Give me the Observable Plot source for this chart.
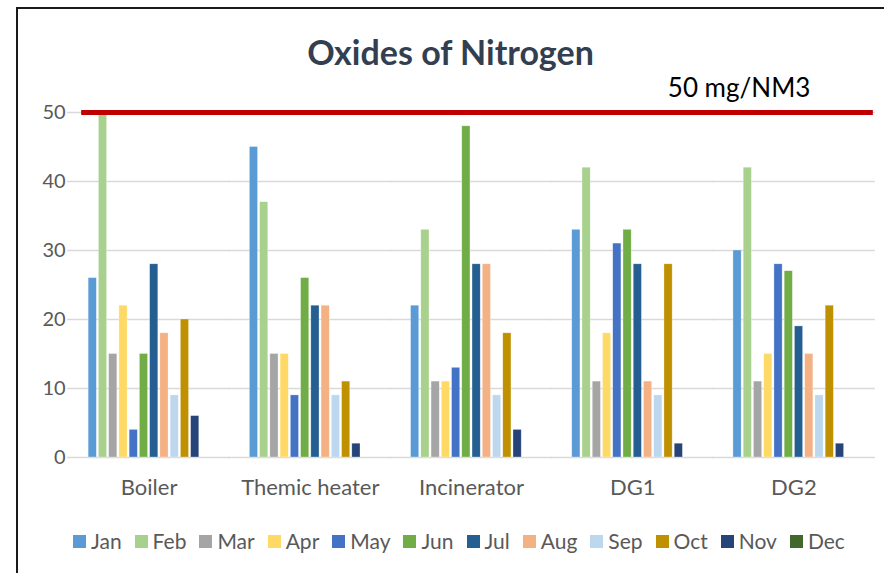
<!DOCTYPE html>
<html><head><meta charset="utf-8">
<script src="https://cdn.jsdelivr.net/npm/d3@7"></script>
<script src="https://cdn.jsdelivr.net/npm/@observablehq/plot@0.6"></script>
<style>
body{margin:0;background:#fff;font-family:Lato,"Open Sans",sans-serif;}
#wrap{position:relative;width:884px;height:573px;overflow:hidden;background:#fff;}
#frame{position:absolute;left:16px;top:7px;width:900px;height:600px;border-left:2px solid #1a1a1a;border-top:2px solid #1a1a1a;}
#title{position:absolute;left:17px;width:867px;top:30px;text-align:center;font-weight:bold;font-size:34px;line-height:44px;color:#333F50;}
#chart{position:absolute;left:0;top:60px;}
#legend{position:absolute;left:73px;top:527px;display:flex;align-items:center;font-size:21px;color:#595959;line-height:28px;white-space:nowrap;}
#legend .item{display:flex;align-items:center;margin-right:13px;}
#legend .sw{width:13px;height:13px;margin-right:5px;}
</style></head>
<body><div id="wrap"><div id="frame"></div><div id="title"></div><div id="chart"></div><div id="legend"></div></div>
<script>
const titleText = "Oxides of Nitrogen";
const sites = ["Boiler", "Themic heater", "Incinerator", "DG1", "DG2"];
const months = ["Jan","Feb","Mar","Apr","May","Jun","Jul","Aug","Sep","Oct","Nov","Dec"];
const monthColors = ["#5B9BD5","#A9D18E","#A5A5A5","#FFD966","#4472C4","#70AD47","#255E91","#F4B183","#BDD7EE","#BF9000","#264478","#43682B"];
// values per month, in the order of sites
const jan = [26, 45, 22, 33, 30];
const feb = [50, 37, 33, 42, 42];
const mar = [15, 15, 11, 11, 11];
const apr = [22, 15, 11, 18, 15];
const may = [4, 9, 13, 31, 28];
const jun = [15, 26, 48, 33, 27];
const jul = [28, 22, 28, 28, 19];
const aug = [18, 22, 28, 11, 15];
const sep = [9, 9, 9, 9, 9];
const oct = [20, 11, 18, 28, 22];
const nov = [6, 2, 4, 2, 2];
const dec = [null, null, null, null, null];
const yTicks = [0, 10, 20, 30, 40, 50];
const limitValue = 50;
const limitLabel = "50 mg/NM3";

const series = [jan, feb, mar, apr, may, jun, jul, aug, sep, oct, nov, dec];
const data = [];
series.forEach((vals, i) => vals.forEach((v, j) => {
  if (v != null) data.push({site: sites[j], month: months[i], value: v});
}));
const grid = [];
sites.forEach(s => yTicks.forEach(t => grid.push({site: s, value: t})));
const limitFirst = [{site: sites[0], value: limitValue}];
const limitRest = sites.slice(1).map(s => ({site: s, value: limitValue}));
const limitText = [{site: sites[sites.length - 1], value: limitValue, label: limitLabel}];

document.getElementById("title").textContent = titleText;

const chart = Plot.plot({
  width: 884,
  height: 460,
  marginTop: 52,
  marginBottom: 63,
  marginLeft: 68,
  marginRight: 10,
  style: {fontFamily: "Lato, 'Open Sans', sans-serif", background: "transparent", overflow: "visible"},
  fx: {domain: sites, paddingInner: 0.25, paddingOuter: 0.125, label: null, round: false},
  x: {domain: months, paddingInner: 0.2, paddingOuter: 0, axis: null, round: false},
  y: {domain: [0, 50], label: null},
  color: {domain: months, range: monthColors},
  marks: [
    Plot.ruleY(grid, {fx: "site", y: "value", stroke: "#D9D9D9", strokeWidth: 1.5, insetLeft: -21, insetRight: -21}),
    Plot.barY(data, {fx: "site", x: "month", y: "value", fill: "month", stroke: "#fff", strokeOpacity: 0.5, strokeWidth: 0.6}),
    Plot.ruleY(limitFirst, {fx: "site", y: "value", stroke: "#C00000", strokeWidth: 5, insetLeft: -7, insetRight: -22}),
    Plot.ruleY(limitRest, {fx: "site", y: "value", stroke: "#C00000", strokeWidth: 5, insetLeft: -22, insetRight: -19}),
    Plot.text(limitText, {fx: "site", y: "value", text: "label", frameAnchor: "right", textAnchor: "end", dx: -44, dy: -24, fontSize: 26, fill: "#000"}),
    Plot.axisY({ticks: yTicks, tickSize: 0, tickPadding: 23, label: null, fontSize: 20, color: "#595959"}),
    Plot.axisFx({anchor: "bottom", tickSize: 0, tickPadding: 22, label: null, fontSize: 22, color: "#595959"})
  ]
});
document.getElementById("chart").appendChild(chart);

const legend = document.getElementById("legend");
months.forEach((m, i) => {
  const item = document.createElement("div");
  item.className = "item";
  const sw = document.createElement("span");
  sw.className = "sw";
  sw.style.background = monthColors[i];
  const t = document.createElement("span");
  t.textContent = m;
  item.appendChild(sw); item.appendChild(t);
  legend.appendChild(item);
});
</script></body></html>
